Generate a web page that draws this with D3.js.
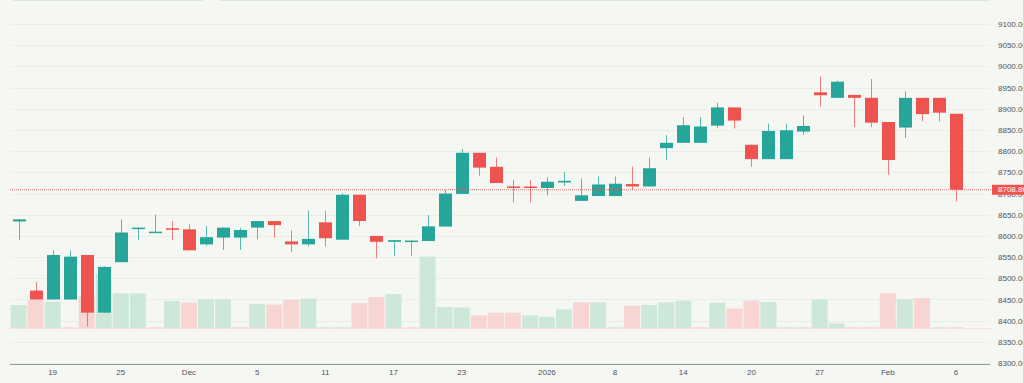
<!DOCTYPE html>
<html>
	<head>
		<title>Daily candles</title>
		<script src="https://d3js.org/d3.v7.min.js"></script>
		<style>
			body { margin: 0; background: #f5f7f3; }
			svg { display: block; }
			text { font-family: "Liberation Sans", Arial, sans-serif; font-size: 8px; fill: #50535e; }
		</style>
	</head>
	<body>
		<svg id="chart" width="1024" height="383"></svg>
		<script>
			// trading days shown
			var dates = ["2025-11-17","2025-11-18","2025-11-19","2025-11-20","2025-11-21","2025-11-24","2025-11-25","2025-11-26","2025-11-27","2025-11-28",
				"2025-12-01","2025-12-02","2025-12-03","2025-12-04","2025-12-05","2025-12-08","2025-12-09","2025-12-10","2025-12-11","2025-12-12",
				"2025-12-15","2025-12-16","2025-12-17","2025-12-18","2025-12-19","2025-12-22","2025-12-23","2025-12-24","2025-12-29","2025-12-30",
				"2025-12-31","2026-01-02","2026-01-05","2026-01-06","2026-01-07","2026-01-08","2026-01-09","2026-01-12","2026-01-13","2026-01-14",
				"2026-01-15","2026-01-16","2026-01-19","2026-01-20","2026-01-21","2026-01-22","2026-01-23","2026-01-27","2026-01-28","2026-01-29",
				"2026-01-30","2026-02-02","2026-02-03","2026-02-04","2026-02-05","2026-02-06"];

			var opens = [8634, 8471, 8450, 8450, 8555, 8419, 8538, 8617, 8608, 8618,
				8615.5, 8580, 8596, 8596, 8619.5, 8635, 8587, 8580, 8632, 8591,
				8697, 8600, 8586, 8586, 8588, 8622, 8699, 8796, 8763, 8716.7,
				8716.5, 8713, 8726, 8682.6, 8694, 8694, 8722.3, 8716.7, 8807, 8819.5,
				8819.5, 8860, 8903, 8815, 8781, 8781, 8846, 8938.7, 8925.6, 8932.6,
				8925.6, 8868.6, 8855.5, 8925.6, 8925.6, 8888];
			var highs = [8639, 8491, 8566, 8566, 8555, 8528, 8639, 8620, 8650, 8635,
				8627, 8623, 8619.5, 8619.5, 8635, 8635, 8613, 8660, 8660, 8701,
				8697, 8600, 8590, 8589, 8649, 8709, 8805, 8796, 8784.5, 8732,
				8732, 8738.7, 8751.7, 8735.4, 8740, 8740, 8763.4, 8785.4, 8837.5, 8880,
				8880, 8914, 8903, 8815, 8865, 8865, 8884, 8976, 8966, 8932.6,
				8970, 8868.6, 8941, 8925.6, 8925.6, 8888];
			var lows = [8590, 8450, 8450, 8450, 8386, 8419, 8538, 8590, 8607, 8590,
				8566, 8576, 8567, 8567, 8592, 8596, 8562, 8575, 8575, 8591,
				8623, 8547, 8553, 8553, 8588, 8622, 8699, 8742, 8724.6, 8679,
				8679, 8695.7, 8718, 8682.6, 8694, 8694, 8709, 8716.7, 8779, 8819.5,
				8819.5, 8854, 8853, 8763, 8781, 8781, 8838, 8905, 8925.6, 8857,
				8857, 8744, 8831, 8870, 8870, 8681.6];
			var closes = [8639, 8450, 8555, 8551, 8419, 8527, 8608, 8619.5, 8610, 8615,
				8566, 8597, 8619.5, 8614, 8635, 8625.5, 8580, 8593, 8594.5, 8697,
				8635, 8586, 8590, 8589, 8622.5, 8700, 8796, 8761, 8724.6, 8713,
				8713.5, 8727.7, 8730, 8695.7, 8721.3, 8723, 8716.7, 8759.7, 8819.5, 8861,
				8858, 8903, 8872, 8781, 8847.6, 8849.2, 8859.3, 8931.7, 8963.7, 8925.6,
				8867, 8779, 8925.6, 8887.3, 8890.6, 8708.8];
			var volumes = [233, 283, 267, 2, 323, 550, 350, 350, 2, 273,
				257, 290, 290, 2, 243, 237, 283, 297, 2, 2,
				253, 313, 343, 2, 717, 213, 207, 130, 156, 156,
				130, 116, 190, 260, 260, 2, 226, 233, 260, 276,
				2, 256, 196, 276, 263, 2, 2, 290, 50, 2,
				2, 350, 293, 303, 2, 2];

			var tickDates = ["2025-11-19","2025-11-25","2025-12-01","2025-12-05","2025-12-11","2025-12-17","2025-12-23",
				"2026-01-02","2026-01-08","2026-01-14","2026-01-20","2026-01-27","2026-02-02","2026-02-06"];
			var tickLabels = ["19","25","Dec","5","11","17","23","2026","8","14","20","27","Feb","6"];
			var priceTicks = [8300, 8350, 8400, 8450, 8500, 8550, 8600, 8650, 8700, 8750, 8800, 8850, 8900, 8950, 9000, 9050, 9100];
			var lastPrice = 8708.80;

			var upColor = "#26a69a", downColor = "#ef5350";

			var candles = dates.map(function(d, i) {
				return {date: d, o: opens[i], h: highs[i], l: lows[i], c: closes[i], v: volumes[i],
					volUp: i == 0 || closes[i] >= closes[i-1]};
			});

			var svg = d3.select("#chart");

			var x = d3.scaleBand().domain(dates).range([10, 964.5]);
			var y = d3.scaleLinear().domain([8400, 9000]).range([320.7, 66.3]);
			var yVol = d3.scaleLinear().domain([0, 1000]).range([328.3, 228.3]);
			var cx = function(d) { return x(d) + x.bandwidth() / 2; };

			// top strip
			svg.append("line").attr("x1", 13).attr("x2", 203).attr("y1", 0.5).attr("y2", 0.5)
				.attr("stroke", "#e1e4ea");
			svg.append("line").attr("x1", 220).attr("x2", 990).attr("y1", 0.5).attr("y2", 0.5)
				.attr("stroke", "#e1e4ea");

			// grid
			svg.append("g")
				.selectAll("line")
				.data(priceTicks)
				.enter()
				.append("line")
				.attr("x1", 10)
				.attr("x2", 990)
				.attr("y1", function(d) { return Math.round(y(d)) + 0.5; })
				.attr("y2", function(d) { return Math.round(y(d)) + 0.5; })
				.attr("stroke", "#ebede8");

			// volume
			svg.append("g")
				.selectAll("rect")
				.data(candles)
				.enter()
				.append("rect")
				.attr("x", function(d) { return cx(d.date) - 8; })
				.attr("width", 16)
				.attr("y", function(d) { return Math.min(yVol(d.v), yVol(0) - 1); })
				.attr("height", function(d) { return Math.max(1, yVol(0) - yVol(d.v)); })
				.attr("fill", function(d) { return d.volUp ? "#cde8d9" : "#f8d4d3"; });

			svg.append("line")
				.attr("x1", 10).attr("x2", 992)
				.attr("y1", Math.round(yVol(0)) + 0.5).attr("y2", Math.round(yVol(0)) + 0.5)
				.attr("stroke", "#f4d2d1")
				.attr("stroke-dasharray", "1,1");

			// candles
			var g = svg.append("g");
			g.selectAll("line")
				.data(candles)
				.enter()
				.append("line")
				.attr("x1", function(d) { return Math.round(cx(d.date)) + 0.5; })
				.attr("x2", function(d) { return Math.round(cx(d.date)) + 0.5; })
				.attr("y1", function(d) { return y(d.h); })
				.attr("y2", function(d) { return y(d.l); })
				.attr("stroke", function(d) { return d.c >= d.o ? upColor : downColor; })
				.attr("stroke-opacity", 0.75);

			g.selectAll("rect")
				.data(candles)
				.enter()
				.append("rect")
				.attr("x", function(d) { return Math.round(cx(d.date)) - 6; })
				.attr("width", 13)
				.attr("y", function(d) { return y(Math.max(d.o, d.c)); })
				.attr("height", function(d) { return Math.max(1.5, Math.abs(y(d.o) - y(d.c))); })
				.attr("fill", function(d) { return d.c >= d.o ? upColor : downColor; });

			// last price line
			svg.append("line")
				.attr("x1", 10).attr("x2", 992)
				.attr("y1", y(lastPrice)).attr("y2", y(lastPrice))
				.attr("stroke", downColor)
				.attr("stroke-opacity", 0.8)
				.attr("stroke-dasharray", "1,1");

			// time axis
			var xAxis = d3.axisBottom(x)
				.tickValues(tickDates)
				.tickFormat(function(d) { return tickLabels[tickDates.indexOf(d)]; })
				.tickSize(0)
				.tickPadding(5);
			var xg = svg.append("g")
				.attr("transform", "translate(0,364.5)")
				.call(xAxis);
			xg.select(".domain").remove();
			xg.selectAll("text").attr("font-size", 8).attr("font-family", null).attr("fill", "#50535e");
			svg.append("line").attr("x1", 10).attr("x2", 990).attr("y1", 364.5).attr("y2", 364.5)
				.attr("stroke", "#9598a1");

			// price axis
			svg.append("clipPath").attr("id", "pclip")
				.append("rect").attr("x", 990).attr("y", 0).attr("width", 34).attr("height", 367);
			var yAxis = d3.axisRight(y)
				.tickValues(priceTicks)
				.tickFormat(d3.format(".2f"))
				.tickSize(0)
				.tickPadding(8);
			var yg = svg.append("g")
				.attr("clip-path", "url(#pclip)")
				.append("g")
				.attr("transform", "translate(990,0)")
				.call(yAxis);
			yg.select(".domain").remove();
			yg.selectAll("text").attr("font-size", 8).attr("font-family", null).attr("fill", "#50535e");

			svg.append("line").attr("x1", 1023.5).attr("x2", 1023.5).attr("y1", 0).attr("y2", 383)
				.attr("stroke", "#d6d9de");

			// last price label
			svg.append("rect")
				.attr("x", 992).attr("y", y(lastPrice) - 5)
				.attr("width", 32).attr("height", 10)
				.attr("fill", downColor);
			svg.append("text")
				.attr("x", 998).attr("y", y(lastPrice))
				.attr("dy", "0.32em")
				.style("fill", "#ffffff")
				.text(d3.format(".2f")(lastPrice));
		</script>
	</body>
</html>
